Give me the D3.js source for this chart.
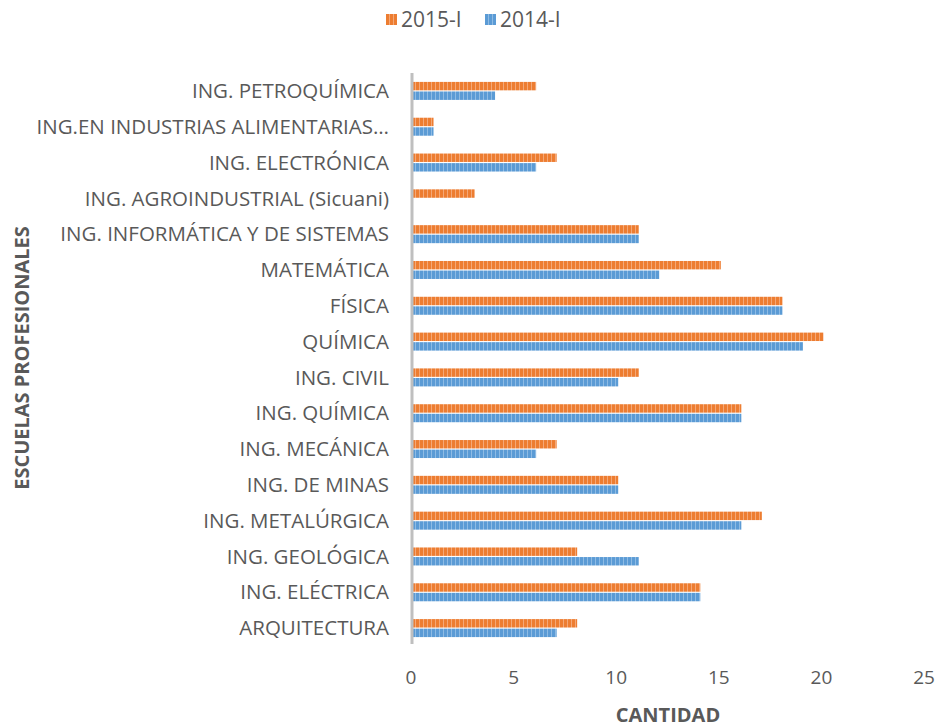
<!DOCTYPE html>
<html>
<head>
<meta charset="utf-8">
<script src="https://cdn.jsdelivr.net/npm/d3@7"></script>
<style>
  body { margin: 0; background: #fff; }
  text { font-family: "Open Sans", sans-serif; fill: #595959; }
</style>
</head>
<body>
<div id="chart"></div>
<script>
"use strict";

// categories top to bottom, as they show on the chart
const escuelas = [
  "ING. PETROQUÍMICA",
  "ING.EN INDUSTRIAS ALIMENTARIAS…",
  "ING. ELECTRÓNICA",
  "ING. AGROINDUSTRIAL (Sicuani)",
  "ING. INFORMÁTICA Y DE SISTEMAS",
  "MATEMÁTICA",
  "FÍSICA",
  "QUÍMICA",
  "ING. CIVIL",
  "ING. QUÍMICA",
  "ING. MECÁNICA",
  "ING. DE MINAS",
  "ING. METALÚRGICA ",
  "ING. GEOLÓGICA",
  "ING. ELÉCTRICA",
  "ARQUITECTURA"
];
const v2015 = [6, 1, 7, 3, 11, 15, 18, 20, 11, 16, 7, 10, 17, 8, 14, 8];
const v2014 = [4, 1, 6, 0, 11, 12, 18, 19, 10, 16, 6, 10, 16, 11, 14, 7];
const seriesNames = ["2015-I", "2014-I"];
const xTicks = [0, 5, 10, 15, 20, 25];

const colors = { "2015-I": "#ED7D31", "2014-I": "#5B9BD5" };
const lighter = { "2015-I": "#F4A877", "2014-I": "#8EBBE4" };

const width = 941, height = 727;
const svg = d3.select("#chart").append("svg")
    .attr("width", width).attr("height", height);

// striped fills
const defs = svg.append("defs");
seriesNames.forEach((s, i) => {
  const p = defs.append("pattern")
      .attr("id", "pat" + i)
      .attr("patternUnits", "userSpaceOnUse")
      .attr("width", 4).attr("height", 4);
  p.append("rect").attr("width", 4).attr("height", 4).attr("fill", colors[s]);
  p.append("rect").attr("x", 3).attr("width", 1).attr("height", 4).attr("fill", lighter[s]);
});

const x = d3.scaleLinear().domain([0, 25]).range([413, 926]);
const y = d3.scaleBand().domain(escuelas).range([73, 646]);
const inner = d3.scaleBand().domain(seriesNames).range([y.bandwidth() / 2 - 9, y.bandwidth() / 2 + 9]).paddingInner(0.12);

const rows = escuelas.map((e, i) => ({ e, vals: [v2015[i], v2014[i]] }));

const g = svg.append("g");
const row = g.selectAll("g.row").data(rows).join("g")
    .attr("transform", d => `translate(0,${y(d.e)})`);

row.selectAll("rect").data(d => d.vals.map((v, i) => ({ s: seriesNames[i], v, i })))
  .join("rect")
    .attr("x", x(0))
    .attr("y", d => inner(d.s))
    .attr("width", d => x(d.v) - x(0))
    .attr("height", inner.bandwidth())
    .attr("fill", d => `url(#pat${d.i})`);

// vertical axis line
svg.append("line")
    .attr("x1", x(0) - 1).attr("x2", x(0) - 1)
    .attr("y1", 73).attr("y2", 644)
    .attr("stroke", "#BFBFBF").attr("stroke-width", 3);

// category labels
svg.append("g").selectAll("text").data(escuelas).join("text")
    .attr("x", 389)
    .attr("y", d => y(d) + y.bandwidth() / 2)
    .attr("dy", "0.35em")
    .attr("text-anchor", "end")
    .style("font-size", "20.5px")
    .text(d => d);

// x tick labels
svg.append("g").selectAll("text").data(xTicks).join("text")
    .attr("x", d => x(d) - 2)
    .attr("y", 684)
    .attr("text-anchor", "middle")
    .style("font-size", "19px")
    .text(d => d);

// axis titles
svg.append("text")
    .attr("x", 668).attr("y", 722)
    .attr("text-anchor", "middle")
    .style("font-size", "20px").style("font-weight", "bold")
    .text("CANTIDAD");

svg.append("text")
    .attr("transform", "translate(29,358) rotate(-90)")
    .attr("text-anchor", "middle")
    .style("font-size", "20px").style("font-weight", "bold")
    .text("ESCUELAS PROFESIONALES");

// legend
const legX = [386, 485];
const leg = svg.append("g").selectAll("g").data(seriesNames).join("g")
    .attr("transform", (d, i) => `translate(${legX[i]},14)`);
leg.append("rect").attr("width", 11).attr("height", 11)
    .attr("fill", (d, i) => `url(#pat${i})`);
leg.append("text").attr("x", 15).attr("y", 6).attr("dy", "0.35em")
    .style("font-size", "21px").text(d => d);
</script>
</body>
</html>
